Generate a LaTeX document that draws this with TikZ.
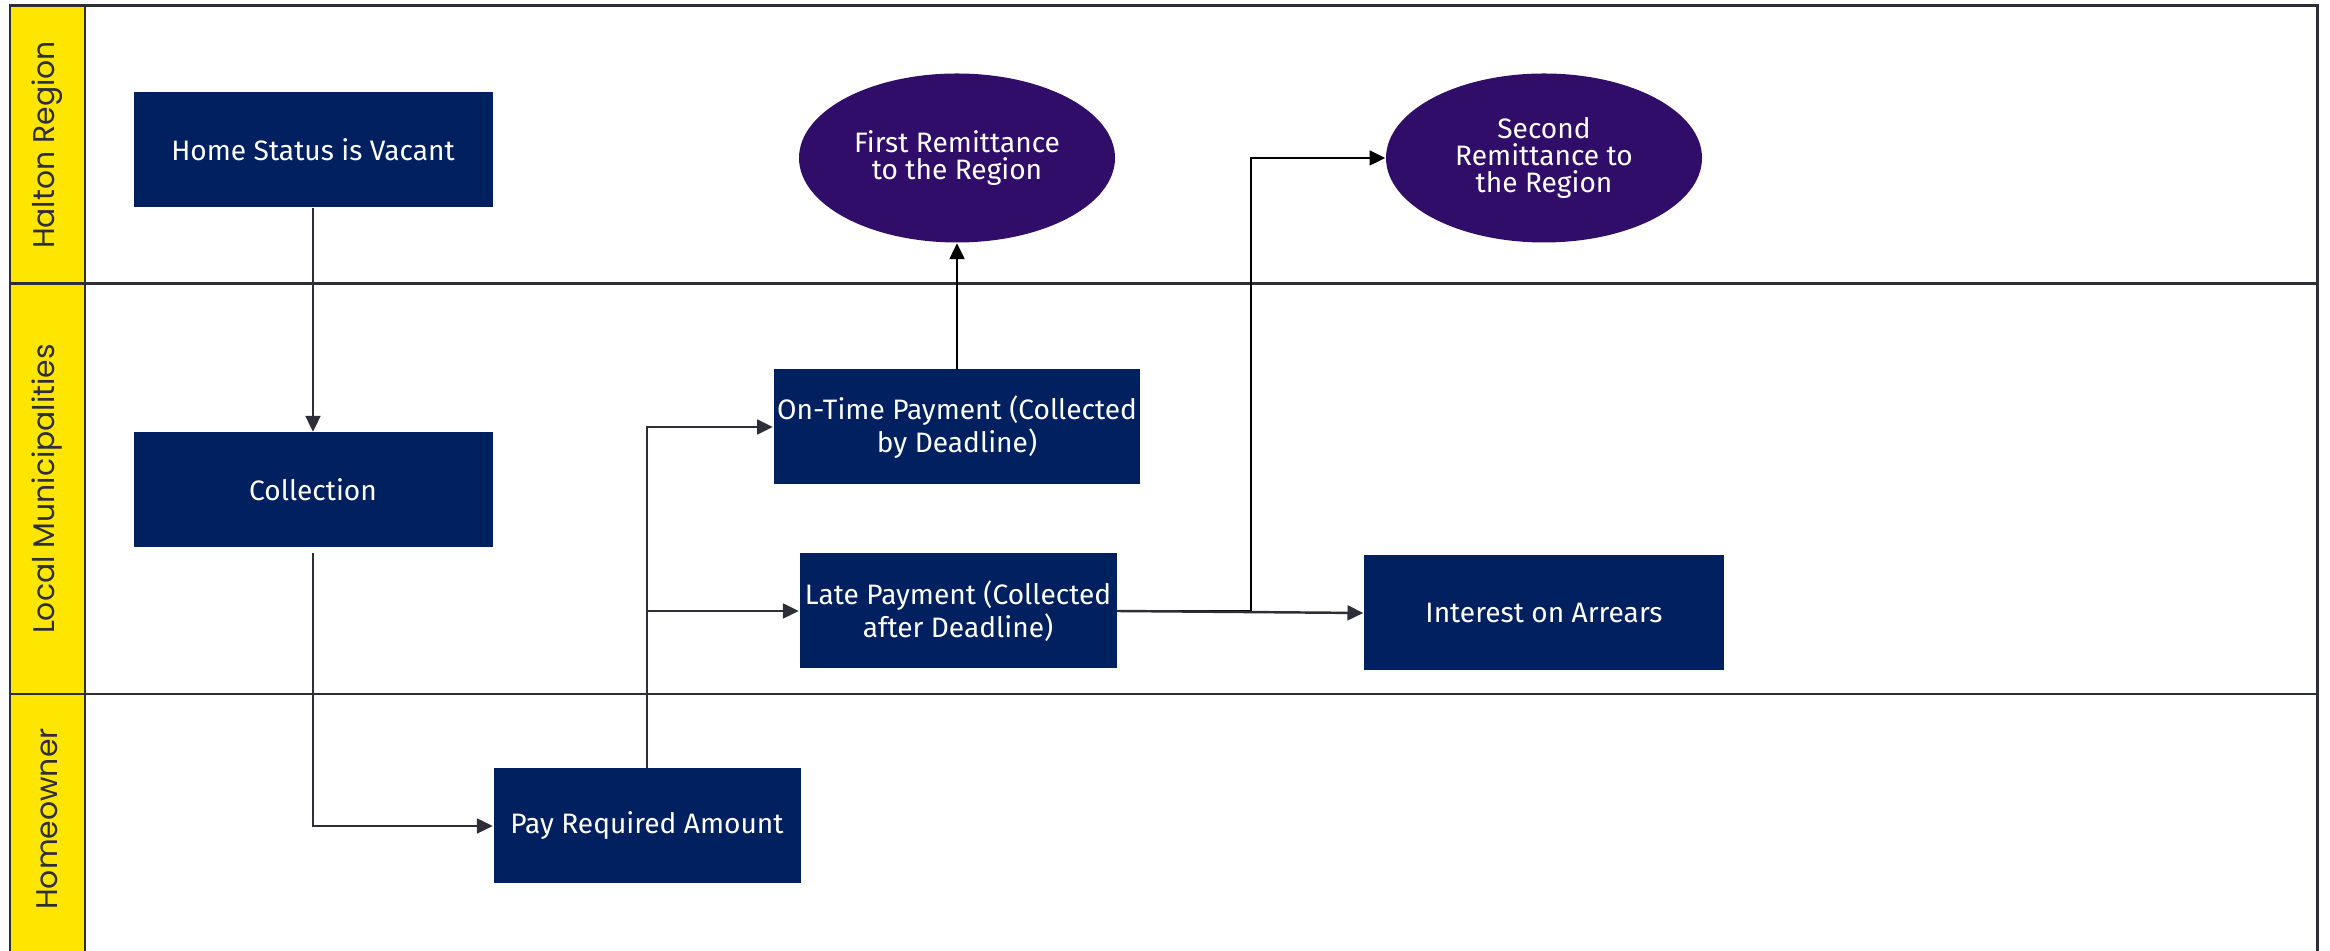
\documentclass[tikz,border=0pt]{standalone}
\usepackage{fontspec}
\usepackage{tikz}
\usetikzlibrary{
	positioning,
	arrows.meta,
	shapes.geometric
}
\newfontfamily\boxfont{Fira Sans}
\newfontfamily\lanefont{Poppins}
\definecolor{eynavy}{RGB}{1,32,96}
\definecolor{eypurple}{RGB}{48,13,104}
\definecolor{eyyellow}{RGB}{255,230,0}
\definecolor{eygrey}{RGB}{46,46,56}

\begin{document}
\begin{tikzpicture}[y=-1cm,
	stepbox/.style={draw=none,fill=eynavy,text=white,minimum width=3.59cm,minimum height=1.15cm,inner xsep=1pt,align=center,font=\boxfont\fontsize{8pt}{7.8pt}\selectfont},
	remit/.style={ellipse,fill=eypurple,text=white,minimum width=3.16cm,minimum height=1.69cm,inner sep=0pt,align=center,font=\boxfont\fontsize{8pt}{7.8pt}\selectfont},
	lane/.style={rotate=90,text=eygrey,font=\lanefont\fontsize{8.5pt}{10pt}\selectfont},
	border/.style={draw=eygrey,line width=0.85pt},
	flow/.style={draw=eygrey,line width=0.7pt,-{Triangle[length=4.5pt,width=4.2pt]}},
	flowb/.style={draw=black,line width=0.7pt,-{Triangle[length=4.5pt,width=4.2pt]}}
	]
			
			\useasboundingbox (0,0) rectangle (23.30,9.51);
			
			\fill[eyyellow] (0.10,0.06) rectangle (0.85,9.70);
			\draw[border] (0.10,9.70) |- (23.17,0.06) -- (23.17,9.70);
			\draw[border] (0.85,0.06) -- (0.85,9.70);
			\draw[border] (0.10,2.84) -- (23.17,2.84);
			\draw[border] (0.10,6.94) -- (23.17,6.94);
			
			\node[lane] (hr) at (0.475,1.45) {Halton Region};
			\node[lane] (lm) at (0.475,4.89) {Local Municipalities};
			\node[lane] (ho) at (0.475,8.19) {Homeowner};
			
			\node[stepbox] (home) at (3.13,1.50) {Home Status is Vacant};
			\node[stepbox] (coll) at (3.13,4.90) {Collection};
			\node[stepbox,minimum width=3.07cm] (pay) at (6.47,8.26) {Pay Required Amount};
			\node[stepbox] (ontime) at (9.57,4.27) {On-Time Payment (Collected\\by Deadline)};
			\node[stepbox,minimum width=3.17cm] (late) at (9.58,6.11) {Late Payment (Collected\\after Deadline)};
			\node[stepbox,minimum width=3.60cm] (arrears) at (15.44,6.13) {Interest on Arrears};
			\node[remit] (first) at (9.57,1.58) {First Remittance\\to the Region};
			\node[remit] (second) at (15.44,1.58) {Second\\Remittance to\\the Region};
			\coordinate (fork) at (12.51,6.11);
			
			\draw[flow] (home) -- (coll);
			\draw[flow,shorten <=1.5pt] (coll.south) |- (pay.west);
			\draw[flow] (pay.north) |- (ontime.west);
			\draw[flow] (pay.north |- late.west) -- (late.west);
			\draw[flowb] (ontime) -- (first);
			\draw[flowb] (late.east) -- (fork) |- (second.west);
			\draw[flow] (late.east) -- (arrears.west);
			
		\end{tikzpicture}
\end{document}
